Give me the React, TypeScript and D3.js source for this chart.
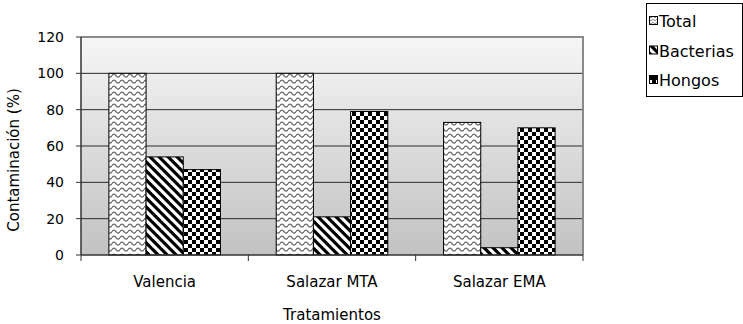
import React from "react";
import * as d3 from "d3";

// Contamination by treatment (%)
const categories = ["Valencia", "Salazar MTA", "Salazar EMA"];
const seriesNames = ["Total", "Bacterias", "Hongos"];
const totalValues = [100, 100, 73];
const bacteriasValues = [54, 21, 4];
const hongosValues = [47, 79, 70];
const yTicks = [0, 20, 40, 60, 80, 100, 120];

const seriesValues = [totalValues, bacteriasValues, hongosValues];
const patternIds = ["pat-total", "pat-bacterias", "pat-hongos"];

const W = 743;
const H = 324;
const plot = { left: 81, right: 583, top: 37, bottom: 255 };
const FONT = "'DejaVu Sans', Verdana, sans-serif";

export default function App() {
  const x0 = d3
    .scaleBand<string>()
    .domain(categories)
    .range([plot.left, plot.right])
    .paddingInner(0)
    .paddingOuter(0);
  const groupW = (x0.bandwidth() * 3) / 4.5;
  const x1 = d3
    .scaleBand<string>()
    .domain(seriesNames)
    .range([0, groupW])
    .padding(0);
  const y = d3.scaleLinear().domain([0, 120]).range([plot.bottom, plot.top]);

  const p = 9; // stripe period
  const boundaries = [plot.left, ...categories.map((c) => (x0(c) as number) + x0.bandwidth())];

  return (
    <svg
      width={W}
      height={H}
      style={{ position: "absolute", left: 0, top: 0, background: "#fff" }}
      fontFamily={FONT}
    >
      <defs>
        <linearGradient id="plotBg" x1="0" y1="0" x2="0" y2="1">
          <stop offset="0" stopColor="#f6f6f6" />
          <stop offset="1" stopColor="#c2c2c2" />
        </linearGradient>
        <pattern id="pat-total" patternUnits="userSpaceOnUse" width={8} height={6}>
          <rect width={8} height={6} fill="#fff" />
          <path d="M0,3.6 Q2,0.6 4,3.6 T8,3.6" fill="none" stroke="#666" strokeWidth={1.4} />
        </pattern>
        <pattern id="pat-bacterias" patternUnits="userSpaceOnUse" width={p} height={p}>
          <rect width={p} height={p} fill="#fff" />
          <polygon points={`0,0 ${p / 2},0 ${p},${p / 2} ${p},${p}`} fill="#000" />
          <polygon points={`0,${p / 2} 0,${p} ${p / 2},${p}`} fill="#000" />
        </pattern>
        <pattern id="pat-hongos" patternUnits="userSpaceOnUse" width={8} height={8}>
          <rect width={8} height={8} fill="#fff" />
          <rect x={0} y={0} width={4} height={4} fill="#000" />
          <rect x={4} y={4} width={4} height={4} fill="#000" />
        </pattern>
        <pattern id="sw-total" patternUnits="userSpaceOnUse" width={4} height={3}>
          <rect width={4} height={3} fill="#fff" />
          <path d="M0,2 Q1,0.5 2,2 T4,2" fill="none" stroke="#666" strokeWidth={0.8} />
        </pattern>
        <pattern id="sw-hongos" patternUnits="userSpaceOnUse" width={8} height={8}>
          <rect width={8} height={8} fill="#000" />
          <rect x={0} y={0} width={4} height={4} fill="#fff" />
        </pattern>
      </defs>

      {/* plot area */}
      <rect
        x={plot.left}
        y={plot.top}
        width={plot.right - plot.left}
        height={plot.bottom - plot.top}
        fill="url(#plotBg)"
      />
      {yTicks
        .filter((t) => t > 0)
        .map((t) => (
          <line
            key={t}
            x1={plot.left}
            x2={plot.right}
            y1={y(t)}
            y2={y(t)}
            stroke="#2a2a2a"
            strokeWidth={1}
          />
        ))}
      <line x1={plot.left} x2={plot.right + 1} y1={plot.top} y2={plot.top} stroke="#8a8a8a" strokeWidth={2} />
      <line x1={plot.right} x2={plot.right} y1={plot.top} y2={plot.bottom} stroke="#8a8a8a" strokeWidth={2} />

      {/* bars */}
      {categories.map((c, ci) => {
        const gx = (x0(c) as number) + (x0.bandwidth() - groupW) / 2;
        return seriesNames.map((s, si) => {
          const v = seriesValues[si][ci];
          return (
            <rect
              key={c + s}
              x={gx + (x1(s) as number)}
              y={y(v)}
              width={x1.bandwidth()}
              height={y(0) - y(v)}
              fill={`url(#${patternIds[si]})`}
              stroke="#000"
              strokeWidth={1}
            />
          );
        });
      })}

      {/* axes */}
      <line x1={plot.left} x2={plot.left} y1={plot.top} y2={plot.bottom} stroke="#333" strokeWidth={1.5} />
      <line x1={plot.left} x2={plot.right} y1={plot.bottom} y2={plot.bottom} stroke="#333" strokeWidth={1.5} />
      {yTicks.map((t) => (
        <g key={t}>
          <line x1={plot.left - 5} x2={plot.left} y1={y(t)} y2={y(t)} stroke="#333" />
          <text x={64} y={y(t) + 5} textAnchor="end" fontSize={14} fill="#000">
            {t}
          </text>
        </g>
      ))}
      {boundaries.map((bx, i) => (
        <line key={i} x1={bx} x2={bx} y1={plot.bottom} y2={plot.bottom + 6} stroke="#333" />
      ))}
      {categories.map((c) => (
        <text
          key={c}
          x={(x0(c) as number) + x0.bandwidth() / 2}
          y={287}
          textAnchor="middle"
          fontSize={15}
          fill="#000"
        >
          {c}
        </text>
      ))}
      <text x={332} y={320} textAnchor="middle" fontSize={15} fill="#000">
        Tratamientos
      </text>
      <text
        transform={`translate(19,160) rotate(-90)`}
        textAnchor="middle"
        fontSize={15}
        fill="#000"
      >
        Contaminación (%)
      </text>

      {/* legend */}
      <rect x={646.5} y={3.5} width={96} height={93} fill="#fff" stroke="#000" strokeWidth={1} />
      {seriesNames.map((s, i) => {
        const cy = 21 + i * 29.5;
        const swFill = i === 0 ? "url(#sw-total)" : i === 1 ? "url(#pat-bacterias)" : "url(#sw-hongos)";
        return (
          <g key={s}>
            <rect x={649.5} y={cy - 4.5} width={8} height={8} fill={swFill} stroke="#000" strokeWidth={1} />
            <text x={659} y={cy + 6} fontSize={16} fill="#000">
              {s}
            </text>
          </g>
        );
      })}
    </svg>
  );
}
